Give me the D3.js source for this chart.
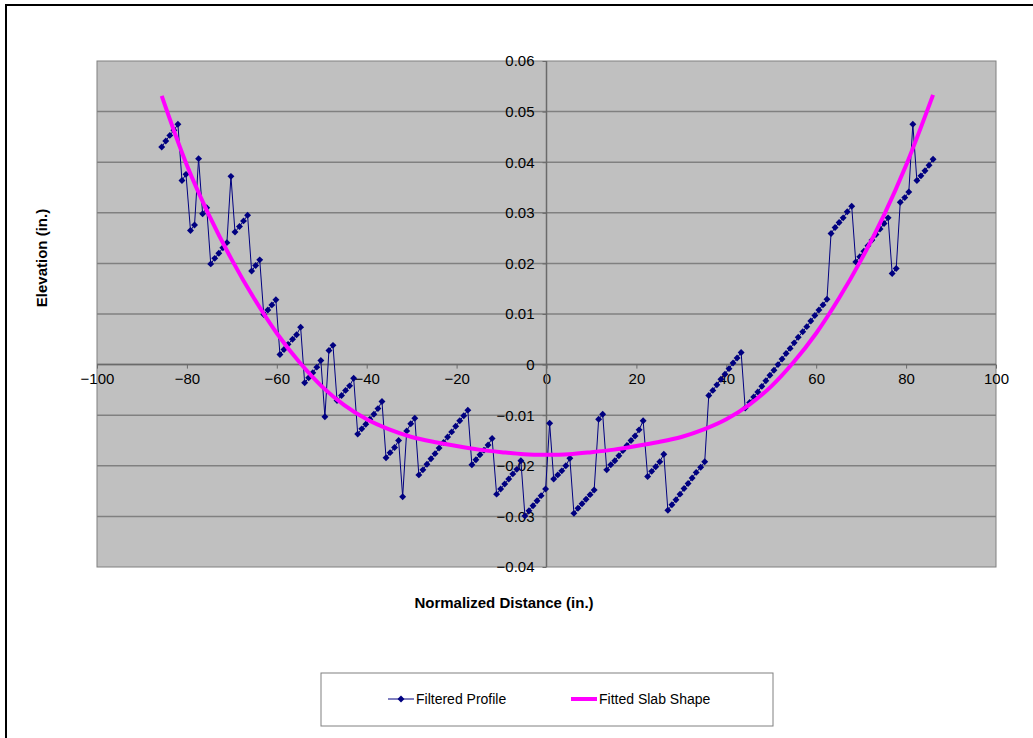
<!DOCTYPE html>
<html>
<head>
<meta charset="utf-8">
<script src="https://cdn.jsdelivr.net/npm/d3@7"></script>
<style>
  body { margin: 0; background: #fff; }
  svg { display: block; font-family: "Liberation Sans", Arial, sans-serif; }
</style>
</head>
<body>
<svg id="main-chart"></svg>
<script>
// Filtered profile: normalized distance (in.) and elevation (in.)
const profileX = [
  -85.6,-84.7,-83.8,-82.9,-82.0,-81.1,-80.2,-79.2,-78.3,-77.4,
  -76.5,-75.6,-74.7,-73.8,-72.9,-72.0,-71.1,-70.2,-69.3,-68.3,
  -67.4,-66.5,-65.6,-64.7,-63.8,-62.9,-62.0,-61.1,-60.2,-59.3,
  -58.4,-57.5,-56.5,-55.6,-54.7,-53.8,-52.9,-52.0,-51.1,-50.2,
  -49.3,-48.4,-47.5,-46.6,-45.6,-44.7,-43.8,-42.9,-42.0,-41.1,
  -40.2,-39.3,-38.4,-37.5,-36.6,-35.7,-34.8,-33.8,-32.9,-32.0,
  -31.1,-30.2,-29.3,-28.4,-27.5,-26.6,-25.7,-24.8,-23.9,-22.9,
  -22.0,-21.1,-20.2,-19.3,-18.4,-17.5,-16.6,-15.7,-14.8,-13.9,
  -13.0,-12.1,-11.1,-10.2,-9.3,-8.4,-7.5,-6.6,-5.7,-4.8,
  -3.9,-3.0,-2.1,-1.2,-0.2,0.7,1.6,2.5,3.4,4.3,
  5.2,6.1,7.0,7.9,8.8,9.7,10.6,11.6,12.5,13.4,
  14.3,15.2,16.1,17.0,17.9,18.8,19.7,20.6,21.5,22.5,
  23.4,24.3,25.2,26.1,27.0,27.9,28.8,29.7,30.6,31.5,
  32.4,33.3,34.3,35.2,36.1,37.0,37.9,38.8,39.7,40.6,
  41.5,42.4,43.3,44.2,45.2,46.1,47.0,47.9,48.8,49.7,
  50.6,51.5,52.4,53.3,54.2,55.1,56.0,57.0,57.9,58.8,
  59.7,60.6,61.5,62.4,63.3,64.2,65.1,66.0,66.9,67.9,
  68.8,69.7,70.6,71.5,72.4,73.3,74.2,75.1,76.0,76.9,
  77.8,78.7,79.7,80.6,81.5,82.4,83.3,84.2,85.1,86.0
];
const profileY = [
  0.0430,0.0442,0.0453,0.0463,0.0475,0.0364,0.0376,0.0265,0.0276,0.0407,
  0.0298,0.0310,0.0199,0.0210,0.0220,0.0231,0.0241,0.0372,0.0262,0.0273,
  0.0284,0.0295,0.0185,0.0196,0.0207,0.0099,0.0108,0.0118,0.0128,0.0020,
  0.0030,0.0040,0.0050,0.0059,0.0074,-0.0036,-0.0026,-0.0016,-0.0005,0.0008,
  -0.0103,0.0028,0.0038,-0.0071,-0.0061,-0.0051,-0.0042,-0.0027,-0.0137,-0.0127,
  -0.0118,-0.0108,-0.0098,-0.0087,-0.0073,-0.0184,-0.0174,-0.0164,-0.0150,-0.0261,
  -0.0131,-0.0117,-0.0106,-0.0218,-0.0208,-0.0197,-0.0186,-0.0176,-0.0165,-0.0154,
  -0.0143,-0.0133,-0.0122,-0.0111,-0.0101,-0.0090,-0.0198,-0.0188,-0.0178,-0.0169,
  -0.0159,-0.0146,-0.0256,-0.0246,-0.0236,-0.0226,-0.0216,-0.0207,-0.0190,-0.0299,
  -0.0289,-0.0279,-0.0269,-0.0259,-0.0246,-0.0116,-0.0226,-0.0218,-0.0210,-0.0200,
  -0.0185,-0.0294,-0.0284,-0.0275,-0.0266,-0.0257,-0.0248,-0.0108,-0.0098,-0.0208,
  -0.0198,-0.0190,-0.0180,-0.0170,-0.0160,-0.0150,-0.0141,-0.0129,-0.0111,-0.0221,
  -0.0211,-0.0202,-0.0192,-0.0177,-0.0288,-0.0277,-0.0267,-0.0256,-0.0245,-0.0235,
  -0.0224,-0.0213,-0.0203,-0.0192,-0.0061,-0.0051,-0.0040,-0.0029,-0.0019,-0.0008,
  0.0003,0.0013,0.0024,-0.0086,-0.0075,-0.0064,-0.0054,-0.0043,-0.0032,-0.0021,
  -0.0011,0.0000,0.0011,0.0022,0.0032,0.0043,0.0054,0.0065,0.0075,0.0086,
  0.0097,0.0108,0.0118,0.0129,0.0259,0.0271,0.0281,0.0290,0.0302,0.0313,
  0.0203,0.0213,0.0224,0.0235,0.0246,0.0257,0.0268,0.0279,0.0290,0.0180,
  0.0190,0.0321,0.0330,0.0341,0.0475,0.0364,0.0373,0.0383,0.0394,0.0406
];

// Fitted slab shape
const fitX = [-85.6,-80,-75,-70,-65,-60,-55,-50,-45,-40,-35,-30,-25,-20,-15,-10,-5,0,
              5,10,15,20,25,30,35,40,45,50,55,60,65,70,75,80,86];
const fitY = [0.0531,0.0394,0.0294,0.0207,0.0130,0.0062,0.0005,-0.0043,-0.0080,-0.0108,
              -0.0128,-0.0143,-0.0153,-0.0161,-0.0168,-0.0173,-0.0177,-0.0178,
              -0.0177,-0.0173,-0.0168,-0.0161,-0.0153,-0.0143,-0.0128,-0.0108,-0.0080,
              -0.0043,0.0005,0.0062,0.0130,0.0207,0.0294,0.0394,0.0533];

const xTicks = [-100,-80,-60,-40,-20,0,20,40,60,80,100];
const yTicks = [-0.04,-0.03,-0.02,-0.01,0,0.01,0.02,0.03,0.04,0.05,0.06];
const seriesNames = ["Filtered Profile", "Fitted Slab Shape"];

const width = 1033, height = 738;
const plot = {left: 97, right: 996, top: 61, bottom: 567};

const svg = d3.select("#main-chart")
    .attr("width", width)
    .attr("height", height);

// chart frame
svg.append("rect")
    .attr("x", 6).attr("y", 5)
    .attr("width", 1100).attr("height", 800)
    .attr("fill", "#fff")
    .attr("stroke", "#000")
    .attr("stroke-width", 2);

const x = d3.scaleLinear().domain([-100, 100]).range([plot.left, plot.right]);
const y = d3.scaleLinear().domain([-0.04, 0.06]).range([plot.bottom, plot.top]);

svg.append("rect")
    .attr("x", plot.left).attr("y", plot.top)
    .attr("width", plot.right - plot.left)
    .attr("height", plot.bottom - plot.top)
    .attr("fill", "#c0c0c0")
    .attr("stroke", "#808080")
    .attr("stroke-width", 1);

// horizontal gridlines
svg.append("g")
  .selectAll("line")
  .data(yTicks.filter(d => d !== -0.04 && d !== 0.06))
  .join("line")
    .attr("x1", plot.left).attr("x2", plot.right)
    .attr("y1", d => y(d)).attr("y2", d => y(d))
    .attr("stroke", "#808080")
    .attr("stroke-width", 1.5);

// axes crossing at zero
const xAxis = svg.append("g")
    .attr("transform", `translate(0,${y(0)})`)
    .call(d3.axisBottom(x).tickValues(xTicks).tickSize(4).tickPadding(5).tickFormat(d3.format("d")));
const yAxis = svg.append("g")
    .attr("transform", `translate(${x(0)},0)`)
    .call(d3.axisLeft(y).tickValues(yTicks).tickSize(4).tickPadding(8).tickFormat(d => d === 0 ? "0" : d3.format(".2f")(d)));

[xAxis, yAxis].forEach(a => {
  a.select(".domain").attr("stroke", "#6a6a6a").attr("stroke-width", 1.5);
  a.selectAll(".tick line").attr("stroke", "#6a6a6a");
  a.selectAll(".tick text")
      .attr("font-size", 15)
      .attr("font-family", "'Liberation Sans', Arial, sans-serif")
      .attr("fill", "#000");
});
xAxis.select(".domain").attr("d", `M${plot.left},0H${plot.right}`);
yAxis.select(".domain").attr("d", `M0,${plot.top}V${plot.bottom}`);

const profile = profileX.map((d, i) => ({x: d, y: profileY[i]}));
const fit = fitX.map((d, i) => ({x: d, y: fitY[i]}));

svg.append("path")
    .datum(profile)
    .attr("fill", "none")
    .attr("stroke", "#000080")
    .attr("stroke-width", 1)
    .attr("d", d3.line().x(d => x(d.x)).y(d => y(d.y)));

const diamond = d3.symbol(d3.symbolSquare, 24);

svg.append("g")
  .selectAll("path")
  .data(profile)
  .join("path")
    .attr("transform", d => `translate(${x(d.x)},${y(d.y)}) rotate(45)`)
    .attr("d", diamond)
    .attr("fill", "#000080");

svg.append("path")
    .datum(fit)
    .attr("fill", "none")
    .attr("stroke", "#ff00ff")
    .attr("stroke-width", 4)
    .attr("d", d3.line().curve(d3.curveCatmullRom).x(d => x(d.x)).y(d => y(d.y)));

// axis titles
svg.append("text")
    .attr("x", 504).attr("y", 608)
    .attr("text-anchor", "middle")
    .attr("font-size", 15)
    .attr("font-weight", "bold")
    .text("Normalized Distance (in.)");

svg.append("text")
    .attr("transform", "translate(47,258) rotate(-90)")
    .attr("text-anchor", "middle")
    .attr("font-size", 15)
    .attr("font-weight", "bold")
    .text("Elevation (in.)");

// legend
const legend = svg.append("g");
legend.append("rect")
    .attr("x", 321).attr("y", 673)
    .attr("width", 452).attr("height", 53)
    .attr("fill", "#fff")
    .attr("stroke", "#808080")
    .attr("stroke-width", 1);

legend.append("line")
    .attr("x1", 388).attr("x2", 414).attr("y1", 699).attr("y2", 699)
    .attr("stroke", "#000080").attr("stroke-width", 1);
legend.append("path")
    .attr("transform", "translate(401,699) rotate(45)")
    .attr("d", diamond)
    .attr("fill", "#000080");
legend.append("line")
    .attr("x1", 571).attr("x2", 597).attr("y1", 699).attr("y2", 699)
    .attr("stroke", "#ff00ff").attr("stroke-width", 4);

legend.selectAll("text")
  .data(seriesNames)
  .join("text")
    .attr("x", (d, i) => i === 0 ? 416 : 599)
    .attr("y", 704)
    .attr("font-size", 14)
    .text(d => d);
</script>
</body>
</html>
